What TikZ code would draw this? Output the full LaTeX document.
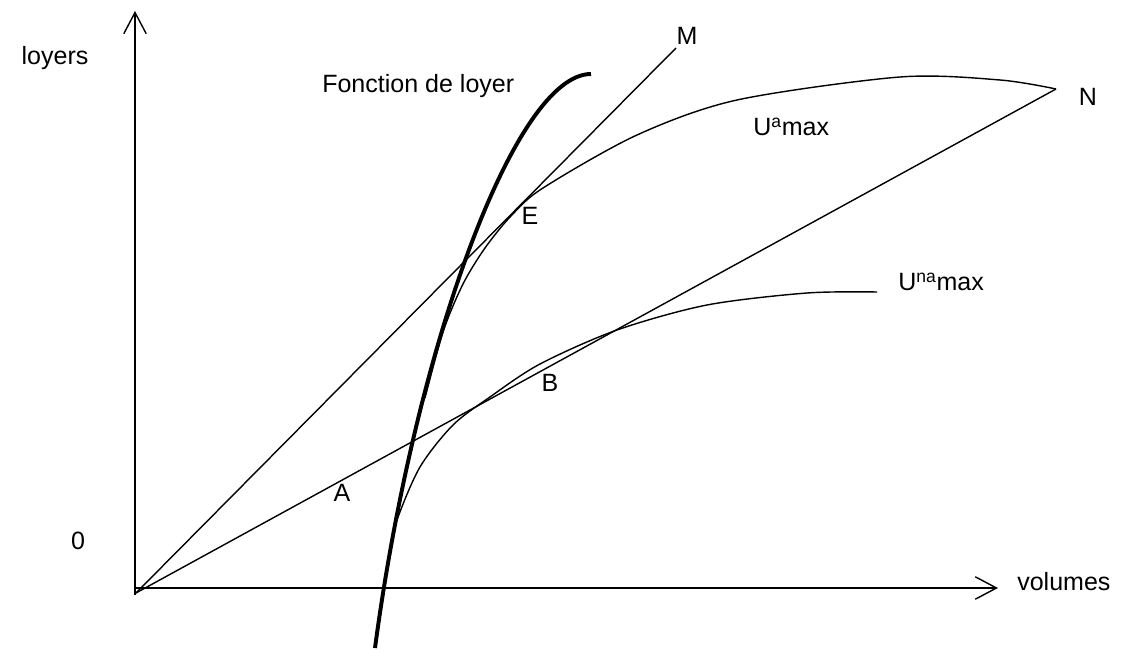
\documentclass[tikz,border=0pt]{standalone}
\usepackage{fontspec}
\setmainfont{Liberation Sans}
\usetikzlibrary{arrows.meta,positioning}

\begin{document}
\begin{tikzpicture}[>={Straight Barb[length=5.3mm,width=5.6mm]},
thin line/.style={line width=1pt},
thick line/.style={line width=2.8pt},
lbl/.style={inner sep=0pt,font=\fontsize{17.8}{20}\selectfont}]
\useasboundingbox (-3.375,-1.55) rectangle (24.65,14.7);

% axes
\coordinate (ybot) at (0,-0.175);
\coordinate (ytop) at (0,14.425);
\coordinate (xleft) at (0,0);
\coordinate (xright) at (21.575,0);
\draw[thin line,->] (ybot)--(ytop);
\draw[thin line,->] (xleft)--(xright);

% rays
\coordinate (o) at (0.025,-0.125);
\coordinate (m) at (13.525,13.5);
\coordinate (n) at (23.025,12.475);
\draw[thin line] (o)--(m);
\draw[thin line] (o)--(n);

% curves
\draw[thin line] plot[smooth] coordinates {(7.25,4.75) (7.7,6.4) (8.2,7.6) (8.75,8.5) (9.4,9.3)
  (10.2,10.0) (12.55,11.325) (15.05,12.2) (19.125,12.775) (21.625,12.7) (23.025,12.475)};
\draw[thin line] plot[smooth] coordinates {(6.35,0.825) (6.55,1.7) (7.125,3.025) (7.95,4.075)
  (8.875,4.775) (10.125,5.6) (12.05,6.45) (14.3,7.075) (16.8,7.375) (18.55,7.4)};
\draw[thick line] (6.0,-1.5) .. controls (7.0,6.0) and (9.5,12.85) .. (11.4,12.85);

% labels
\node[lbl] (loyers) at (-2.0,13.25) {loyers};
\node[lbl] (zero) at (-1.425,1.175) {0};
\node[lbl,anchor=west] (volumes) at (22.05,0.15) {volumes};
\node[lbl] (mlab) at (13.8,13.8) {M};
\node[lbl] (nlab) at (23.825,12.275) {N};
\node[lbl,anchor=west] (fonction) at (4.675,12.55) {Fonction de loyer};
\node[lbl,anchor=west] (ua) at (15.45,11.525) {U\textsuperscript{a}max};
\node[lbl,anchor=west] (una) at (19.075,7.65) {U\textsuperscript{na}max};
\node[lbl] (e) at (9.875,9.3) {E};
\node[lbl] (b) at (10.375,5.125) {B};
\node[lbl] (a) at (5.175,2.375) {A};
\end{tikzpicture}
\end{document}
